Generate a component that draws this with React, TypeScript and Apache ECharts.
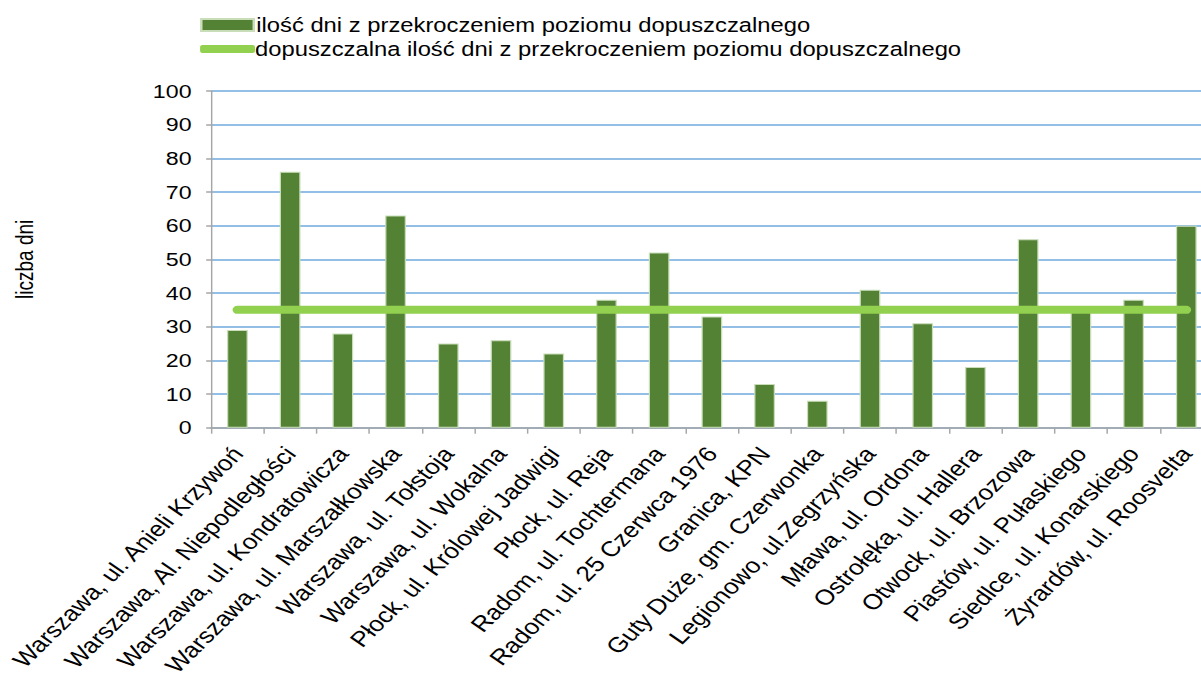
import React, { useEffect, useRef } from "react";
import * as echarts from "echarts";

const categories: string[] = [
  "Warszawa, ul. Anieli Krzywoń",
  "Warszawa, Al. Niepodległości",
  "Warszawa, ul. Kondratowicza",
  "Warszawa, ul. Marszałkowska",
  "Warszawa, ul. Tołstoja",
  "Warszawa, ul. Wokalna",
  "Płock, ul. Królowej Jadwigi",
  "Płock, ul. Reja",
  "Radom, ul. Tochtermana",
  "Radom, ul. 25 Czerwca 1976",
  "Granica, KPN",
  "Guty Duże, gm. Czerwonka",
  "Legionowo, ul.Zegrzyńska",
  "Mława, ul. Ordona",
  "Ostrołęka, ul. Hallera",
  "Otwock, ul. Brzozowa",
  "Piastów, ul. Pułaskiego",
  "Siedlce, ul. Konarskiego",
  "Żyrardów, ul. Roosvelta",
];

const exceedDays: number[] = [29, 76, 28, 63, 25, 26, 22, 38, 52, 33, 13, 8, 41, 31, 18, 56, 35, 38, 60];
const allowedDays: number[] = [35, 35, 35, 35, 35, 35, 35, 35, 35, 35, 35, 35, 35, 35, 35, 35, 35, 35, 35];

const seriesBarName = "ilość dni z przekroczeniem poziomu dopuszczalnego";
const seriesLineName = "dopuszczalna ilość dni z przekroczeniem poziomu dopuszczalnego";
const yAxisName = "liczba dni";

const FONT = "Liberation Sans, Arial, sans-serif";
// the reference picture is stretched horizontally; the chart is drawn narrower and stretched back
const STRETCH = 1.22;

export default function App() {
  const ref = useRef<HTMLDivElement>(null);
  useEffect(() => {
    if (!ref.current) return;
    const chart = echarts.init(ref.current, null, { renderer: "svg" });
    chart.setOption({
      animation: false,
      backgroundColor: "#ffffff",
      textStyle: { fontFamily: FONT },
      legend: [
        {
          data: [{ name: seriesBarName, icon: "rect" }],
          left: 164,
          top: 15,
          padding: 0,
          itemWidth: 43,
          itemHeight: 12,
          textStyle: { fontSize: 19.5, color: "#000", fontFamily: FONT, padding: [0, 0, 0, -3] },
        },
        {
          data: [{ name: seriesLineName, icon: "roundRect" }],
          left: 164,
          top: 39,
          padding: 0,
          itemWidth: 45,
          itemHeight: 8,
          textStyle: { fontSize: 19.5, color: "#000", fontFamily: FONT, padding: [0, 0, 0, -5] },
        },
      ],
      grid: { left: 173, top: 91, right: 0, bottom: 248, containLabel: false },
      xAxis: {
        type: "category",
        data: categories,
        boundaryGap: true,
        axisLine: { show: true, lineStyle: { color: "#A6A6A6", width: 1.5 } },
        axisTick: { show: true, length: 6, lineStyle: { color: "#A6A6A6", width: 1.2 } },
        axisLabel: {
          rotate: 50,
          fontSize: 21.5,
          color: "#000",
          fontFamily: FONT,
          interval: 0,
          margin: 22,
        },
      },
      yAxis: {
        type: "value",
        min: 0,
        max: 100,
        interval: 10,
        name: yAxisName,
        nameLocation: "middle",
        nameGap: 143,
        nameRotate: 90,
        nameTextStyle: { fontSize: 19, color: "#000", fontFamily: FONT },
        axisLine: { show: true, lineStyle: { color: "#A6A6A6", width: 1.2 } },
        axisTick: { show: true, length: 4, lineStyle: { color: "#A6A6A6", width: 1.5 } },
        axisLabel: { fontSize: 19, color: "#000", fontFamily: FONT, margin: 16 },
        splitLine: { show: true, lineStyle: { color: "#6FA8DC", width: 1.5 } },
      },
      series: [
        {
          name: seriesBarName,
          type: "bar",
          data: exceedDays,
          barWidth: 17,
          itemStyle: { color: "#548235", borderColor: "#C9DDB9", borderWidth: 1 },
          z: 2,
        },
        {
          name: seriesLineName,
          type: "line",
          data: allowedDays,
          symbol: "none",
          showSymbol: false,
          lineStyle: { color: "#92D050", width: 8, cap: "round" },
          itemStyle: { color: "#92D050" },
          z: 3,
        },
      ],
    });
    return () => chart.dispose();
  }, []);
  return (
    <div
      style={{
        position: "absolute",
        left: 0,
        top: 0,
        width: 1201,
        height: 679,
        overflow: "hidden",
        background: "#fff",
      }}
    >
      <div
        ref={ref}
        style={{
          width: 994,
          height: 679,
          transform: `scaleX(${STRETCH})`,
          transformOrigin: "0 0",
        }}
      />
    </div>
  );
}
